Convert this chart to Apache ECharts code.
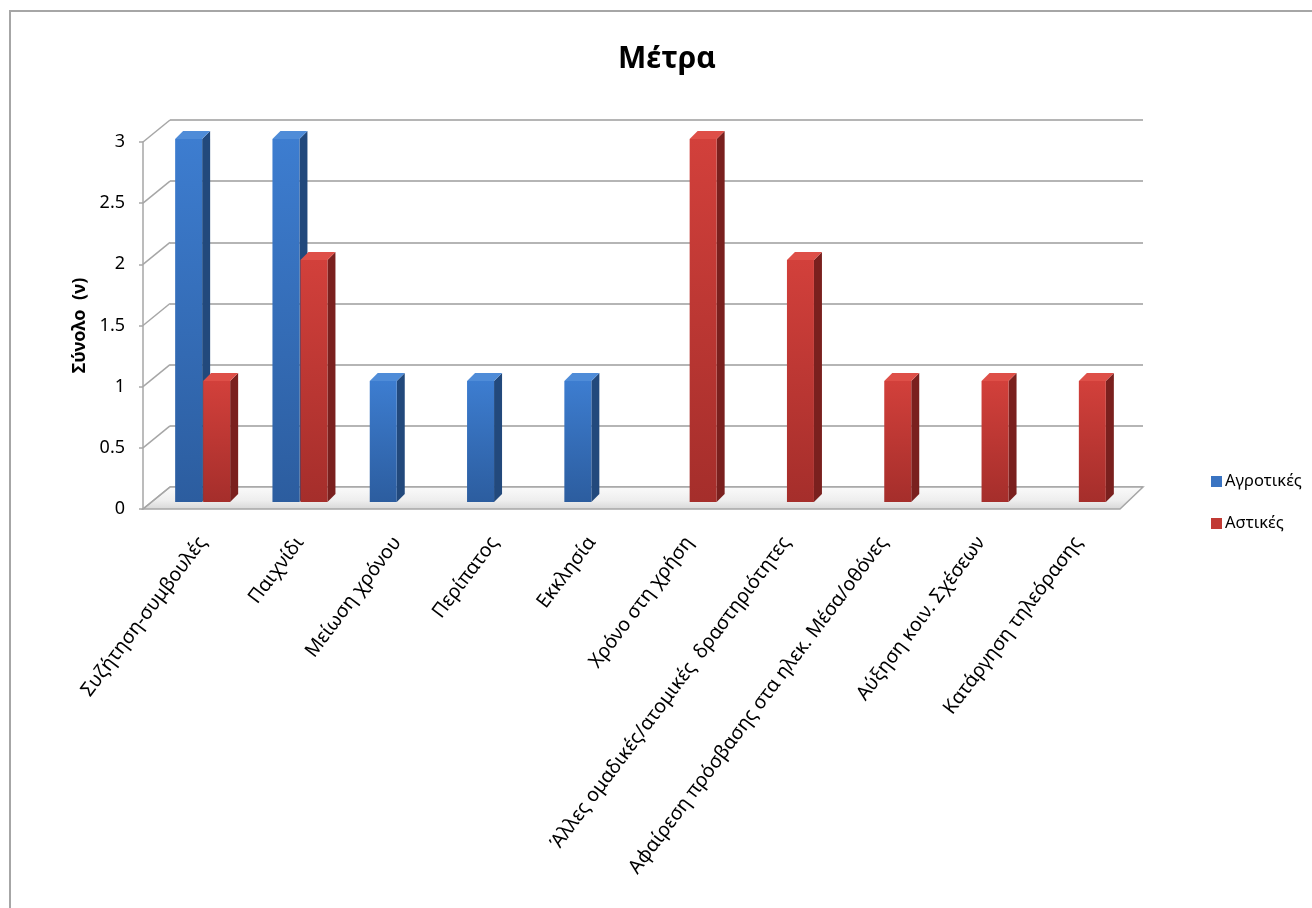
<!DOCTYPE html>
<html>
<head>
<meta charset="utf-8">
<title>Μέτρα</title>
<script src="https://cdn.jsdelivr.net/npm/echarts@6/dist/echarts.min.js"></script>
<style>
  html, body { margin: 0; padding: 0; background: #fff; }
  #chart { width: 1312px; height: 908px; }
</style>
</head>
<body>
<div id="chart"></div>
<script>
// Categories (measures) and counts per area type
const categories = [
  'Συζήτηση-συμβουλές',
  'Παιχνίδι',
  'Μείωση χρόνου',
  'Περίπατος',
  'Εκκλησία',
  'Χρόνο στη χρήση',
  'Άλλες ομαδικές/ατομικές  δραστηριότητες',
  'Αφαίρεση πρόσβασης στα ηλεκ. Μέσα/οθόνες',
  'Αύξηση κοιν. Σχέσεων',
  'Κατάργηση τηλεόρασης'
];
const seriesNames = ['Αγροτικές', 'Αστικές'];
const agrotikes = [3, 3, 1, 1, 1, 0, 0, 0, 0, 0];
const astikes = [1, 2, 0, 0, 0, 3, 2, 1, 1, 1];
const yTicks = [0, 0.5, 1, 1.5, 2, 2.5, 3];

const FONT = '"Noto Sans", "Open Sans", sans-serif';
const BAR_W = 27;      // front face width of one bar
const DEPTH = 8;       // bar depth drawn as an oblique offset
const WALL_DX = -27;   // back wall -> front edge offset
const WALL_DY = 22;

const palette = {
  blue: { front: ['#3d7dd0', '#2c5d9f'], side: '#22497c', top: '#4f8cd8', legend: '#3a74c2' },
  red:  { front: ['#d2403b', '#a52e2b'], side: '#7a201e', top: '#de4f48', legend: '#c13a34' }
};

function barRenderer(shift, colors) {
  return function (params, api) {
    const v = api.value(1);
    if (!v) return null;
    const top = api.coord([api.value(0), v]);
    const base = api.coord([api.value(0), 0]);
    const x0 = top[0] + shift;
    const x1 = x0 + BAR_W;
    const yt = top[1];
    const yb = base[1];
    return {
      type: 'group',
      children: [
        {
          type: 'polygon',
          shape: { points: [[x1, yt], [x1 + DEPTH, yt - DEPTH], [x1 + DEPTH, yb - DEPTH], [x1, yb]] },
          style: { fill: colors.side }
        },
        {
          type: 'rect',
          shape: { x: x0, y: yt, width: BAR_W, height: yb - yt },
          style: {
            fill: new echarts.graphic.LinearGradient(0, 0, 0, 1, [
              { offset: 0, color: colors.front[0] },
              { offset: 1, color: colors.front[1] }
            ])
          }
        },
        {
          type: 'polygon',
          shape: { points: [[x0, yt], [x0 + DEPTH, yt - DEPTH], [x1 + DEPTH, yt - DEPTH], [x1, yt]] },
          style: { fill: colors.top }
        }
      ]
    };
  };
}

const chart = echarts.init(document.getElementById('chart'), null, { renderer: 'canvas' });

chart.setOption({
  backgroundColor: '#ffffff',
  animation: false,
  graphic: [{
    type: 'rect',
    shape: { x: 10, y: 11, width: 1400, height: 1000 },
    style: { fill: 'none', stroke: '#a6a6a6', lineWidth: 2 },
    silent: true
  }],
  title: {
    text: 'Μέτρα',
    left: 662,
    top: 39,
    textAlign: 'center',
    textStyle: { fontFamily: FONT, fontSize: 30, fontWeight: 'bold', color: '#000' }
  },
  legend: {
    orient: 'vertical',
    left: 1206,
    top: 468,
    itemGap: 25,
    itemWidth: 11,
    itemHeight: 11,
    icon: 'rect',
    data: seriesNames,
    textStyle: { fontFamily: FONT, fontSize: 16.5, color: '#000', padding: [0, 0, 0, -2] }
  },
  grid: [
    // plane of the bars' front faces
    { left: 154, right: 185, top: 139, bottom: 406 },
    // front edge (value axis)
    { left: 143, right: 192, top: 142, bottom: 399 },
    // back wall
    { left: 170, right: 169, top: 120, bottom: 421 }
  ],
  xAxis: [
    {
      gridIndex: 0,
      type: 'category',
      data: categories,
      axisLine: { show: false },
      axisTick: { show: false },
      axisLabel: {
        interval: 0,
        rotate: 53,
        margin: 37,
        fontFamily: FONT,
        fontSize: 19.5,
        color: '#000'
      }
    },
    { gridIndex: 1, type: 'category', data: categories, show: false },
    { gridIndex: 2, type: 'value', min: 0, max: 1, show: false }
  ],
  yAxis: [
    { gridIndex: 0, type: 'value', min: 0, max: 3, interval: 0.5, show: false },
    {
      gridIndex: 1,
      type: 'value',
      min: 0,
      max: 3,
      interval: 0.5,
      name: 'Σύνολο  (ν)',
      nameLocation: 'middle',
      nameGap: 54,
      nameTextStyle: { fontFamily: FONT, fontSize: 18, fontWeight: 'bold', color: '#000' },
      axisLine: { show: true, lineStyle: { color: '#a6a6a6', width: 1.5 } },
      axisTick: { show: true, length: 4, lineStyle: { color: '#a6a6a6', width: 1.5 } },
      splitLine: { show: false },
      axisLabel: {
        margin: 18,
        fontFamily: FONT,
        fontSize: 18,
        color: '#000',
        formatter: function (v) { return String(v); }
      }
    },
    {
      gridIndex: 2,
      type: 'value',
      min: 0,
      max: 3,
      interval: 0.5,
      axisLine: { show: false },
      axisTick: { show: false },
      axisLabel: { show: false },
      splitLine: { show: true, lineStyle: { color: '#9c9c9c', width: 1.6 } }
    }
  ],
  series: [
    {
      // floor of the plot
      type: 'custom',
      name: 'floor',
      xAxisIndex: 2,
      yAxisIndex: 2,
      z: 1,
      silent: true,
      data: [[0, 0]],
      renderItem: function (params, api) {
        const bl = api.coord([0, 0]);
        const br = api.coord([1, 0]);
        return {
          type: 'polygon',
          shape: {
            points: [bl, br, [br[0] + WALL_DX + 4, br[1] + WALL_DY], [bl[0] + WALL_DX, bl[1] + WALL_DY]]
          },
          style: {
            fill: new echarts.graphic.LinearGradient(0, 0, 0, 1, [
              { offset: 0, color: '#fbfbfb' },
              { offset: 0.6, color: '#eeeeee' },
              { offset: 1, color: '#d6d6d6' }
            ]),
            stroke: '#a6a6a6',
            lineWidth: 1.5
          }
        };
      }
    },
    {
      // side wall connectors from the value axis to the back wall
      type: 'custom',
      name: 'wall',
      xAxisIndex: 2,
      yAxisIndex: 2,
      z: 1,
      silent: true,
      data: yTicks.map(function (t) { return [0, t]; }),
      renderItem: function (params, api) {
        const p = api.coord([0, api.value(1)]);
        return {
          type: 'line',
          shape: { x1: p[0], y1: p[1], x2: p[0] + WALL_DX, y2: p[1] + WALL_DY },
          style: { stroke: '#a6a6a6', lineWidth: 1.5 }
        };
      }
    },
    {
      type: 'custom',
      name: seriesNames[0],
      xAxisIndex: 0,
      yAxisIndex: 0,
      z: 3,
      itemStyle: { color: palette.blue.legend },
      data: agrotikes.map(function (v, i) { return [i, v]; }),
      renderItem: barRenderer(-BAR_W - 0.5, palette.blue)
    },
    {
      type: 'custom',
      name: seriesNames[1],
      xAxisIndex: 0,
      yAxisIndex: 0,
      z: 3,
      itemStyle: { color: palette.red.legend },
      data: astikes.map(function (v, i) { return [i, v]; }),
      renderItem: barRenderer(0.5, palette.red)
    }
  ]
});
</script>
</body>
</html>
